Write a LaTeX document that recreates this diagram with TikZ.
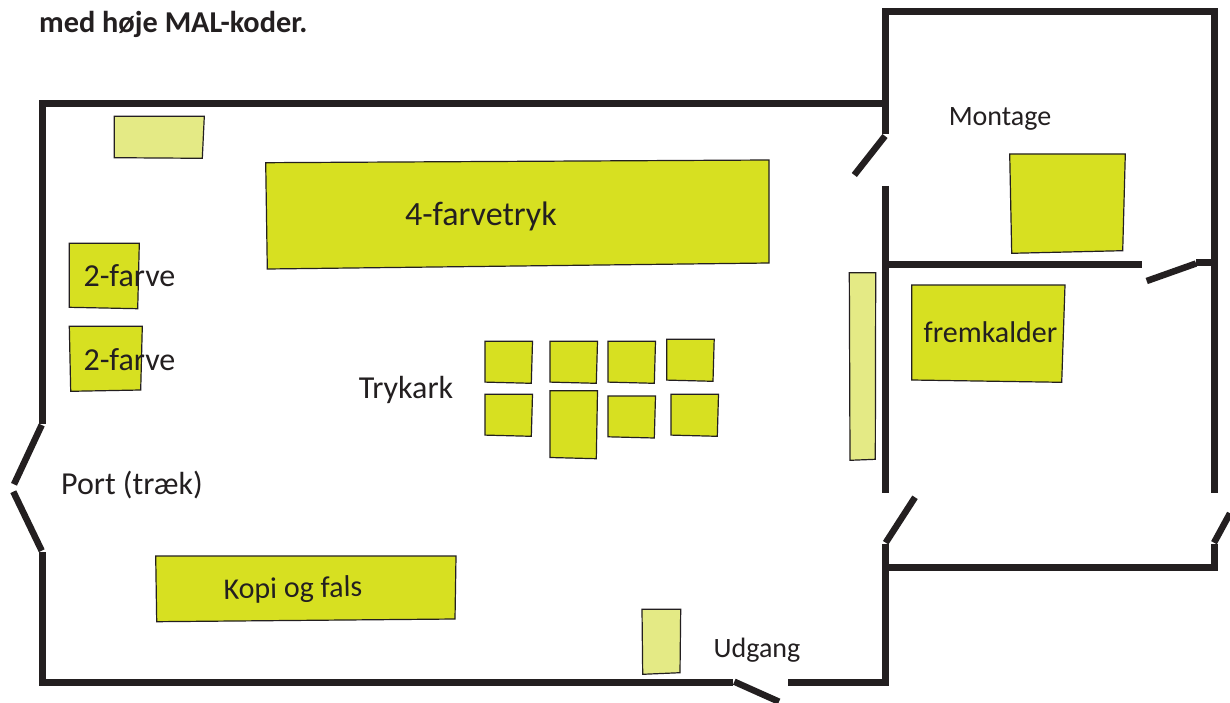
\documentclass[tikz,border=0pt]{standalone}
\usepackage{fontspec}
\setmainfont{Carlito}
\usepackage{xcolor}
\definecolor{wallblack}{HTML}{231F20}
\definecolor{machinegreen}{HTML}{D7E021}
\definecolor{palegreen}{HTML}{E4EA85}
\tikzset{
	wall/.style={line width=7pt, draw=wallblack},
	door/.style={line width=6.5pt, draw=wallblack},
	machine/.style={fill=machinegreen, draw=wallblack, line width=1.2pt},
	table/.style={fill=palegreen, draw=wallblack, line width=1.2pt},
	roomlabel/.style={font=\fontsize{#1}{#1}\selectfont, text=wallblack, inner sep=0pt},
	roomlabel/.default=30
}

\begin{document}
\begin{tikzpicture}[x=1pt, y=-1pt]
	\useasboundingbox[fill=white] (0,0) rectangle (1230,703);
	\node[anchor=base west, inner sep=0pt, font=\fontsize{30.3}{30.3}\selectfont\bfseries, text=wallblack] (intro) at (39,33) {med høje MAL-koder.};
	% walls
	\draw[wall] (42,424) -- (42,103.5) -- (885,103.5);
	\draw[wall] (885,134) -- (885,11.7) -- (1214.5,11.7) -- (1214.5,493);
	\draw[wall] (885,186) -- (885,493);
	\draw[wall] (885,264) -- (1142,264);
	\draw[door] (1196,262.5) -- (1214.5,262.5);
	\draw[wall] (885,544) -- (885,682.5) -- (788,682.5);
	\draw[wall] (885,567) -- (1218,567);
	\draw[wall] (1214.5,544) -- (1214.5,567);
	\draw[wall] (733,682.5) -- (42,682.5) -- (42,552);
	% doors
	\draw[door] (885,136) -- (854.3,175);
	\draw[door] (1196,263.5) -- (1146.7,281);
	\draw[door] (915,497.3) -- (885.7,542.7);
	\draw[door] (1230,513.3) -- (1214,542.7);
	\draw[door] (734.3,681.7) -- (779,701.7);
	\draw[door] (41.7,425) -- (14,484.3);
	\draw[door] (41.7,550.7) -- (13.3,491.7);
	% tables
	\draw[table] (114.3,116.3) -- (204.3,116.3) -- (202.3,158.3) -- (114.3,157.7) -- cycle;
	\draw[table] (849.3,272.7) -- (875.7,272.7) -- (875.3,459.3) -- (850,460.3) -- cycle;
	\draw[table] (642,609.3) -- (680.7,609.3) -- (680,672.7) -- (642.7,674.3) -- cycle;
	% machines
	\draw[machine] (265.7,162.7) -- (769,160) -- (769,263) -- (267.3,269) -- cycle;
	\draw[machine] (69.3,243.3) -- (139.3,243.3) -- (137.7,308.7) -- (69.3,307.3) -- cycle;
	\draw[machine] (69.3,326.3) -- (142.3,326.3) -- (140.7,390) -- (70.7,391.3) -- cycle;
	\draw[machine] (1009.7,154) -- (1125.3,154) -- (1122.7,250.7) -- (1011.7,253.3) -- cycle;
	\draw[machine] (911.7,285) -- (1065,285) -- (1061.7,382.3) -- (911.7,380) -- cycle;
	\draw[machine] (155.7,556) -- (456,556) -- (455,619) -- (156.7,621.7) -- cycle;
	% sheets
	\foreach \xa/\ya/\h in {485/341.3/42, 550/341.3/42, 608/341.3/42, 666.7/339.3/42, 485/394.3/42, 608/396/42, 671/394.3/42, 550/390.7/68}
		\draw[machine] (\xa,\ya) -- (\xa+47.5,\ya) -- (\xa+46.3,\ya+\h) -- (\xa,\ya+\h-1.2) -- cycle;
	% labels
	\node[roomlabel=34] (trykfarve) at (481,216) {4-farvetryk};
	\node[roomlabel=32] (tofarveA) at (129.5,276) {2-farve};
	\node[roomlabel=32] (tofarveB) at (129.5,360) {2-farve};
	\node[roomlabel=32] (trykark) at (406,390) {Trykark};
	\node[roomlabel=32] (port) at (132,485) {Port (træk)};
	\node[roomlabel, rotate=1] (kopi) at (293,590) {Kopi og fals};
	\node[roomlabel=28] (montage) at (1000,119) {Montage};
	\node[roomlabel] (fremkalder) at (990.5,332) {fremkalder};
	\node[roomlabel=28] (udgang) at (757,650) {Udgang};
\end{tikzpicture}
\end{document}
